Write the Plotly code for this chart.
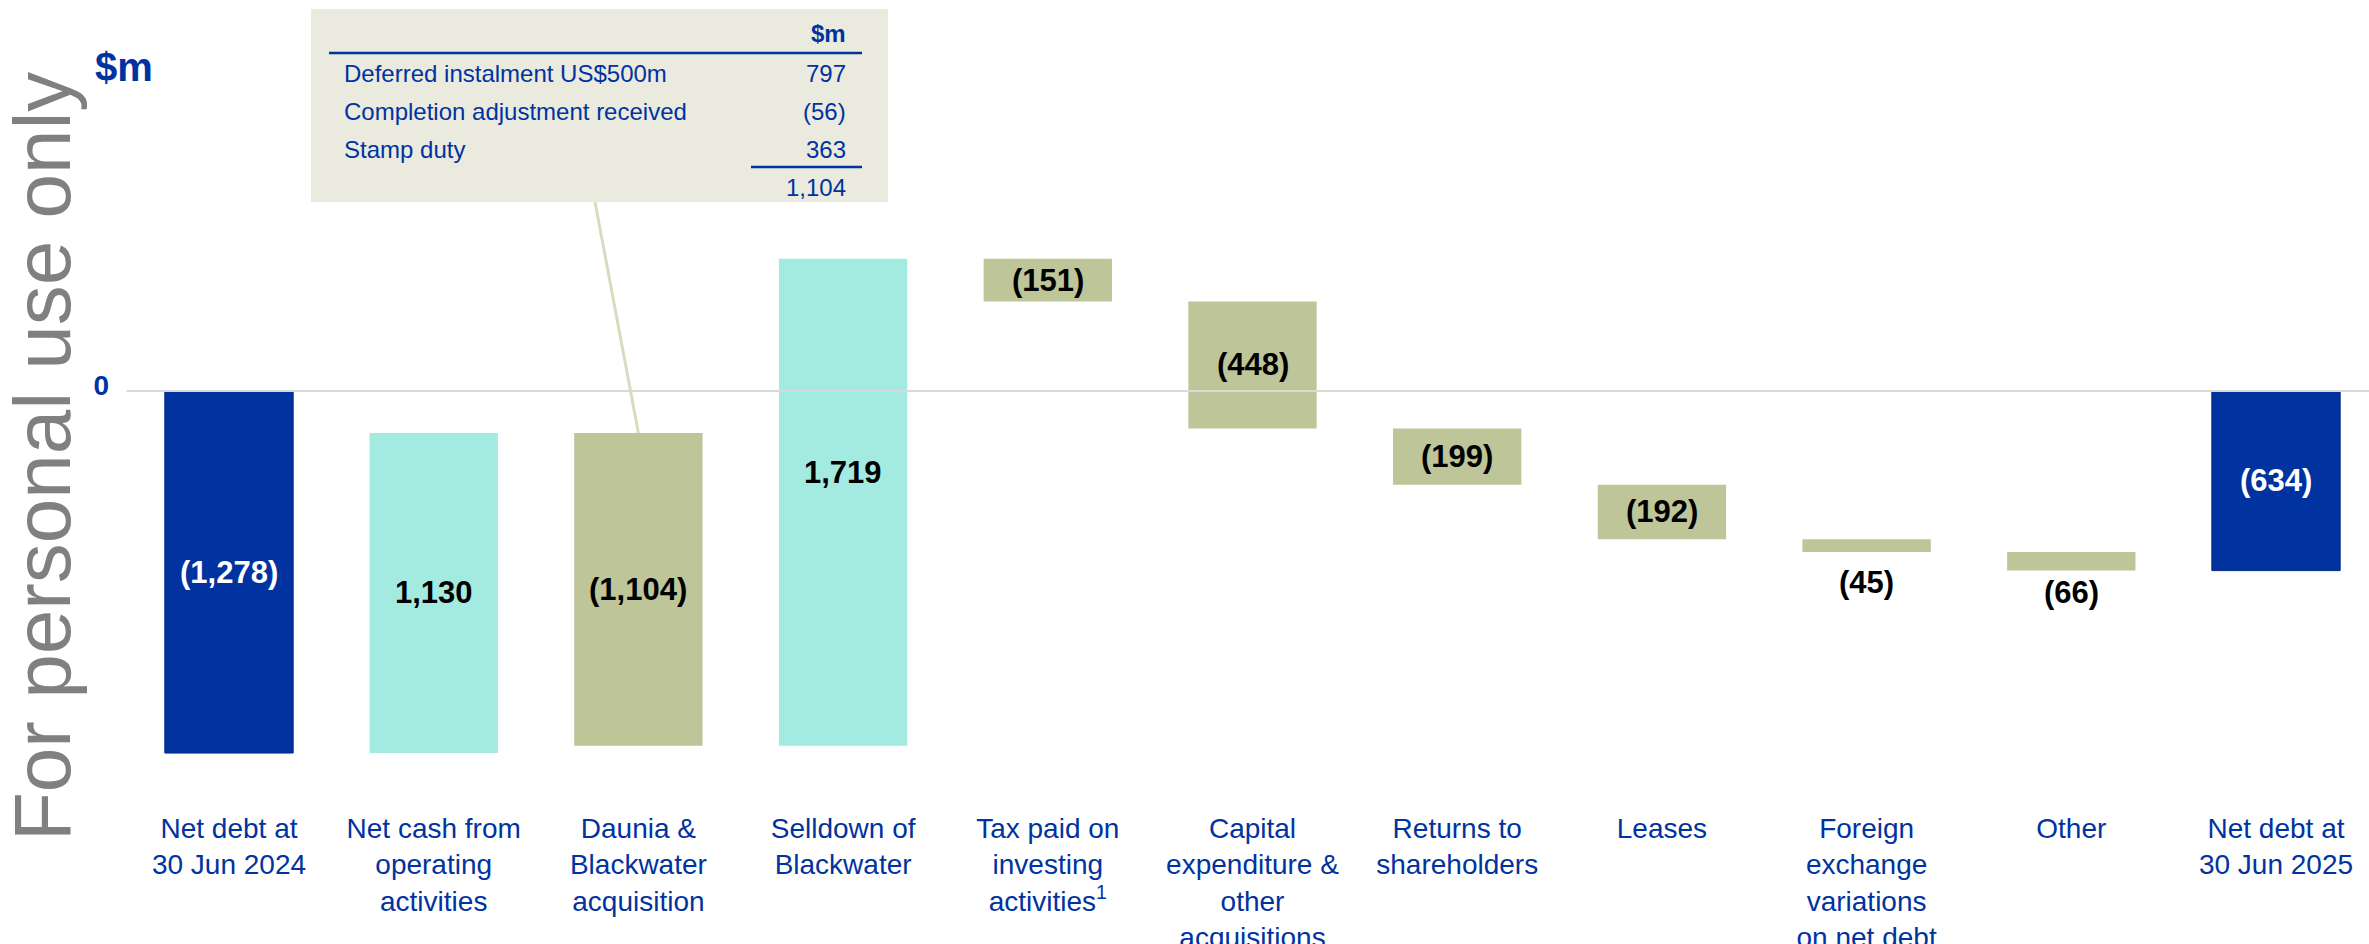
import plotly.graph_objects as go

# ---- data -------------------------------------------------------------
categories = [
    "Net debt at<br>30 Jun 2024",
    "Net cash from<br>operating<br>activities",
    "Daunia &<br>Blackwater<br>acquisition",
    "Selldown of<br>Blackwater",
    "Tax paid on<br>investing<br>activities<sup>1</sup>",
    "Capital<br>expenditure &<br>other<br>acquisitions",
    "Returns to<br>shareholders",
    "Leases",
    "Foreign<br>exchange<br>variations<br>on net debt",
    "Other",
    "Net debt at<br>30 Jun 2025",
]
values = [-1278, 1130, -1104, 1719, -151, -448, -199, -192, -45, -66, -634]
measures = ["absolute"] + ["relative"] * 9 + ["total"]
bar_labels = ["(1,278)", "1,130", "(1,104)", "1,719", "(151)", "(448)",
              "(199)", "(192)", "(45)", "(66)", "(634)"]

inset_items = ["Deferred instalment US$500m", "Completion adjustment received", "Stamp duty"]
inset_values = ["797", "(56)", "363"]
inset_total = "1,104"

# ---- styling ----------------------------------------------------------
NAVY = "#0033A0"
TEAL = "#A3EBE0"
OLIVE = "#BEC598"
INSET_BG = "#EAEBDE"
FONT = "Liberation Sans, Arial, sans-serif"

W, H = 2369, 944
PLOT_L, PLOT_R, PLOT_T, PLOT_B = 110, 2369, 0, 800
K = 0.2833          # pixels per $m
ZERO_PX = 391       # pixel row of the zero line
SPACING = 204.7     # pixels between category centres
FIRST_PX = 229      # pixel column of the first category

y_top = (ZERO_PX - PLOT_T) / K
y_bot = -(PLOT_B - ZERO_PX) / K
x_lo = -(FIRST_PX - PLOT_L) / SPACING
x_hi = (PLOT_R - FIRST_PX) / SPACING


def px_x(px):
    return x_lo + (px - PLOT_L) / SPACING


def px_y(py):
    return y_top - (py - PLOT_T) / K


def paper_x(px):
    return (px - PLOT_L) / (PLOT_R - PLOT_L)


def paper_y(py):
    return 1 - (py - PLOT_T) / (PLOT_B - PLOT_T)


# label placement: "mid" inside the bar, "below" under it; shift in px
label_pos = ["mid"] * 8 + ["below", "below", "mid"]
label_shift = [0, 0, 0, 30, 0, 0, 0, 0, -31, -22, 0]

# running totals to find bar extents
bottoms, tops = [], []
run = 0
for v, m in zip(values, measures):
    if m == "absolute":
        start, end = 0, v
        run = v
    elif m == "relative":
        start, end = run, run + v
        run += v
    else:
        start, end = 0, run
    bottoms.append(min(start, end))
    tops.append(max(start, end))

fig = go.Figure(go.Waterfall(
    x=categories,
    y=values,
    measure=measures,
    connector=dict(visible=False),
    increasing=dict(marker=dict(color=TEAL)),
    decreasing=dict(marker=dict(color=OLIVE)),
    totals=dict(marker=dict(color=NAVY, line=dict(color="#002A85", width=1))),
    hoverinfo="skip",
    showlegend=False,
))

annotations = []
for i, lab in enumerate(bar_labels):
    is_total = measures[i] != "relative"
    if label_pos[i] == "mid":
        y = (tops[i] + bottoms[i]) / 2
    else:
        y = bottoms[i]
    annotations.append(dict(
        x=i, y=y, xref="x", yref="y", text=f"<b>{lab}</b>",
        showarrow=False, yshift=label_shift[i],
        font=dict(family=FONT, size=31, color="white" if is_total else "black"),
        xanchor="center", yanchor="middle",
    ))

# watermark and unit label
annotations.append(dict(
    x=paper_x(42), y=paper_y(457), xref="paper", yref="paper",
    text="For personal use only", textangle=-90, showarrow=False,
    font=dict(family=FONT, size=80, color="#808080"),
    xanchor="center", yanchor="middle",
))
annotations.append(dict(
    x=paper_x(124), y=paper_y(67), xref="paper", yref="paper",
    text="<b>$m</b>", showarrow=False,
    font=dict(family=FONT, size=40, color=NAVY),
    xanchor="center", yanchor="middle",
))

# inset table
tfont = dict(family=FONT, size=24, color=NAVY)
annotations.append(dict(
    x=paper_x(848), y=paper_y(33), xref="paper", yref="paper",
    text="<b>$m</b>", showarrow=False, font=tfont,
    xanchor="right", yanchor="middle",
))
row_px = [73, 111, 149]
for lab, val, py in zip(inset_items, inset_values, row_px):
    annotations.append(dict(
        x=paper_x(342), y=paper_y(py), xref="paper", yref="paper",
        text=lab, showarrow=False, font=tfont, xanchor="left", yanchor="middle",
    ))
    annotations.append(dict(
        x=paper_x(848), y=paper_y(py), xref="paper", yref="paper",
        text=val, showarrow=False, font=tfont, xanchor="right", yanchor="middle",
    ))
annotations.append(dict(
    x=paper_x(848), y=paper_y(187), xref="paper", yref="paper",
    text=inset_total, showarrow=False, font=tfont, xanchor="right", yanchor="middle",
))

shapes = [
    # zero line
    dict(type="line", xref="x", yref="y", x0=-0.5, x1=x_hi, y0=0, y1=0,
         line=dict(color="#D9D9D9", width=2), layer="above"),
    # inset box
    dict(type="rect", xref="paper", yref="paper",
         x0=paper_x(311), x1=paper_x(888), y0=paper_y(202), y1=paper_y(9),
         fillcolor=INSET_BG, line=dict(width=0), layer="below"),
    dict(type="line", xref="paper", yref="paper",
         x0=paper_x(329), x1=paper_x(862), y0=paper_y(53), y1=paper_y(53),
         line=dict(color=NAVY, width=2.5)),
    dict(type="line", xref="paper", yref="paper",
         x0=paper_x(751), x1=paper_x(862), y0=paper_y(167), y1=paper_y(167),
         line=dict(color=NAVY, width=2.5)),
    # connector from inset to Daunia bar
    dict(type="line", xref="x", yref="y",
         x0=px_x(595), y0=px_y(202), x1=2, y1=tops[2],
         line=dict(color="#D8DCBF", width=3)),
]

fig.update_layout(
    width=W, height=H,
    margin=dict(l=PLOT_L, r=W - PLOT_R, t=PLOT_T, b=H - PLOT_B),
    paper_bgcolor="white", plot_bgcolor="white",
    waterfallgap=0.373,
    annotations=annotations,
    shapes=shapes,
    xaxis=dict(
        range=[x_lo, x_hi], showgrid=False, zeroline=False, showline=False,
        ticks="", ticklabelstandoff=9, automargin=False,
        tickfont=dict(family=FONT, size=28, color=NAVY),
        fixedrange=True,
    ),
    yaxis=dict(
        range=[y_bot, y_top], showgrid=False, zeroline=False, showline=False,
        tickvals=[0], ticktext=["<b>0</b>"], ticks="", ticklabelshift=-6,
        automargin=False,
        tickfont=dict(family=FONT, size=28, color=NAVY),
        fixedrange=True,
    ),
)

# drop the browser's default body margin so the figure sits at the page corner
fig.write_html(
    "out.html",
    config={"displayModeBar": False},
    post_script="document.body.style.margin='0';",
)
